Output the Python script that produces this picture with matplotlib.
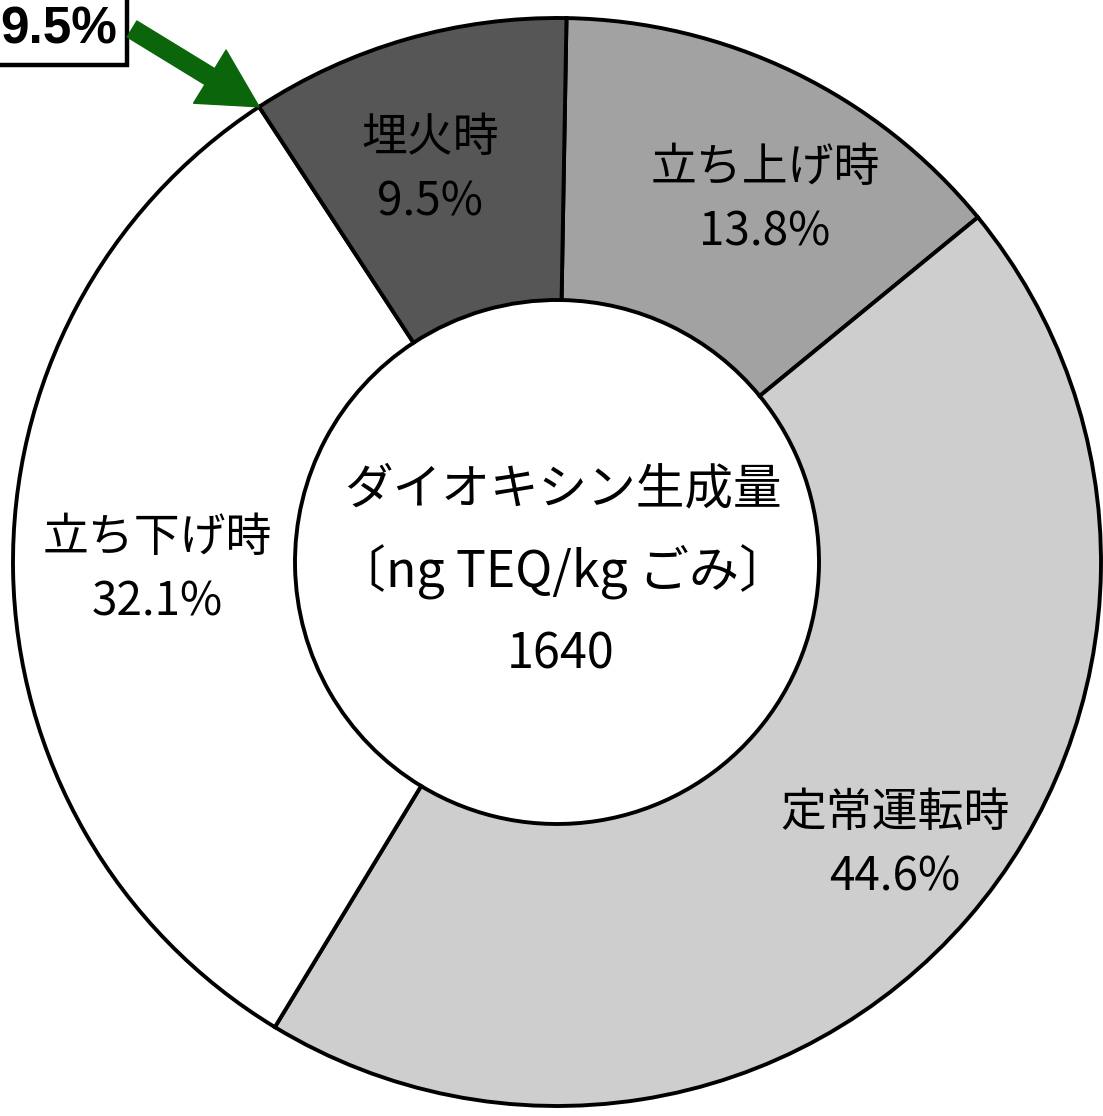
import numpy as np
import matplotlib.pyplot as plt

plt.rcParams['font.family'] = ['Noto Sans CJK JP', 'DejaVu Sans']

W, H = 1103, 1116

# data
labels = ['立ち上げ時', '定常運転時', '立ち下げ時', '埋火時']
shares = [13.8, 44.6, 32.1, 9.5]
colors = ['#a2a2a2', '#cecece', '#ffffff', '#565656']
total_label = 'ダイオキシン生成量'
unit_label = '〔ng TEQ/kg ごみ〕'
total_value = 1640
callout = '9.5%'

fig = plt.figure(figsize=(W / 100, H / 100), dpi=100)
ax = fig.add_axes([0, 0, 1, 1])

cx, cy = 557, H - 562
R, r_in = 544, 262

wedges, _ = ax.pie(shares, colors=colors, startangle=89, counterclock=False,
                   center=(cx, cy), radius=R, frame=True,
                   wedgeprops=dict(width=R - r_in, edgecolor='black', linewidth=2.8))
ax.set_xlim(0, W)
ax.set_ylim(0, H)
ax.set_aspect('equal')
ax.axis('off')

# segment labels (pixel positions from top)
label_pos = [(765, 200), (895, 845), (157, 570), (430, 170)]
for lab, val, (x, y) in zip(labels, shares, label_pos):
    ax.text(x, H - y, f'{lab}\n{val}%', ha='center', va='center',
            fontsize=33, linespacing=1.45, color='black')

# centre text
ax.text(cx + 6, H - 490, total_label, ha='center', va='center', fontsize=35)
ax.text(cx + 6, H - 572, unit_label, ha='center', va='center', fontsize=36)
ax.text(cx + 4, H - 655, str(total_value), ha='center', va='center', fontsize=35)

# callout box with arrow to the start of the last segment
theta = np.deg2rad(wedges[-1].theta2)
tip = (cx + R * np.cos(theta), cy + R * np.sin(theta))
ax.text(117, H - 30, callout, ha='right', va='center', fontsize=37,
        fontweight='bold', family=['Liberation Sans', 'DejaVu Sans'],
        bbox=dict(boxstyle='square,pad=0.2', fc='white', ec='black', lw=3.2))
ax.annotate('', xy=tip, xytext=(132, H - 29),
            arrowprops=dict(arrowstyle='simple,head_width=1.4,head_length=1.3,tail_width=0.42',
                            mutation_scale=32, color='#0b650b', shrinkA=0, shrinkB=0))

fig.savefig('out.png', dpi=100)
